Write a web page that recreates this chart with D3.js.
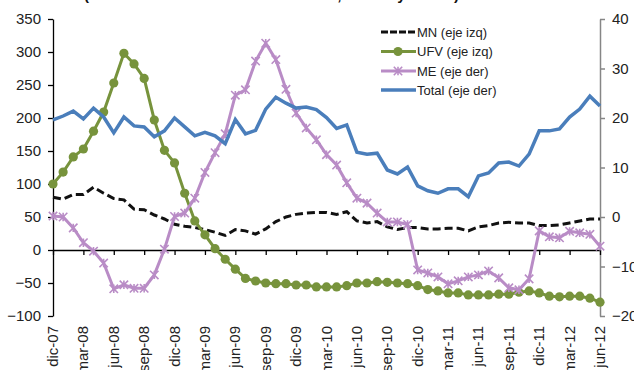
<!DOCTYPE html>
<html>
<head>
<meta charset="utf-8">
<script src="https://cdn.jsdelivr.net/npm/d3@7/dist/d3.min.js"></script>
<style>
  html, body { margin: 0; padding: 0; background: #fff; }
  svg { display: block; font-family: "Liberation Sans", Arial, sans-serif; }
</style>
</head>
<body>
<svg id="chart" width="634" height="370"></svg>
<script>
// Monthly periods, dic-07 .. jun-12
const months = [
  "dic-07","ene-08","feb-08","mar-08","abr-08","may-08","jun-08","jul-08","ago-08","sep-08","oct-08","nov-08",
  "dic-08","ene-09","feb-09","mar-09","abr-09","may-09","jun-09","jul-09","ago-09","sep-09","oct-09","nov-09",
  "dic-09","ene-10","feb-10","mar-10","abr-10","may-10","jun-10","jul-10","ago-10","sep-10","oct-10","nov-10",
  "dic-10","ene-11","feb-11","mar-11","abr-11","may-11","jun-11","jul-11","ago-11","sep-11","oct-11","nov-11",
  "dic-11","ene-12","feb-12","mar-12","abr-12","may-12","jun-12"
];
// Category labels shown on the time axis (every third month)
const tickLabels = ["dic-07","mar-08","jun-08","sep-08","dic-08","mar-09","jun-09","sep-09","dic-09",
  "mar-10","jun-10","sep-10","dic-10","mar-11","jun-11","sep-11","dic-11","mar-12","jun-12"];

// Left axis series
const mn = [80,77,84,84,95,86,78,76,62,61,53,47,39,36,34,31,27,22,31,29,24,32,43,50,54,56,57,57,54,58,
  44,41,43,35,31,34,34,32,32,33,33,29,35,37,41,42,41,41,37,37,38,41,44,47,47];
const ufv = [100,118,141,153,180,209,253,298,282,260,197,151,132,86,44,23,2,-14,-29,-43,-47,-50,-51,-51,
  -53,-53,-56,-56,-56,-54,-50,-50,-48,-49,-50,-51,-54,-60,-62,-65,-65,-68,-68,-68,-67,-67,-64,-62,-65,
  -70,-71,-70,-70,-73,-79];
// Right axis series
const me = [0.2,0,-2.2,-5.2,-6.9,-9.3,-14.5,-13.7,-14.4,-14.4,-11.7,-6.5,0.1,0.8,3.8,9,13,16.8,24.6,25.7,
  31.5,35.1,31.8,25.8,21,18,15.6,12.6,10.5,6.9,3.8,2.8,0.8,-1,-1,-1.5,-10.7,-11.3,-12.1,-13.5,-12.9,
  -12.1,-11.7,-10.9,-12.3,-14.3,-14.7,-12.5,-2.8,-4,-4.2,-2.9,-3.2,-3.5,-5.9];
const total = [19.6,20.4,21.4,19.8,22,20.2,17,20.2,18.4,18.2,16.2,17.4,20,18.2,16.4,17.1,16.4,14.8,19.7,
  16.8,17.5,21.8,24.2,23,22,22.2,21.7,20.1,17.9,18.6,13.1,12.7,12.9,9.5,8.7,10.1,6.3,5.3,4.8,5.7,5.7,
  4.1,8.3,8.9,10.9,11.1,10.3,12.7,17.4,17.4,17.8,20.2,21.8,24.4,22.4];

const leftTicks = [-100,-50,0,50,100,150,200,250,300,350];
const rightTicks = [-20,-10,0,10,20,30,40];
const seriesNames = ["MN (eje izq)","UFV (eje izq)","ME (eje der)","Total (eje der)"];

const colors = { mn: "#111111", ufv: "#77933c", me: "#b98cc6", total: "#4a7ebb" };

const svg = d3.select("#chart");

const x = d3.scalePoint().domain(months).range([53, 600]);
const yL = d3.scaleLinear().domain([-100, 350]).range([316, 19]);
const yR = d3.scaleLinear().domain([-20, 40]).range([316, 19]);

// Title (mostly above the top edge)
svg.append("text")
  .attr("x", 84).attr("y", 0)
  .attr("font-size", 15).attr("font-weight", "bold").attr("fill", "#111")
  .attr("textLength", 375).attr("lengthAdjust", "spacing")
  .text("(Variación en millones de Bs, en % y total)");

// Left axis
const axL = svg.append("g").attr("transform", "translate(53,0)")
  .call(d3.axisLeft(yL).tickValues(leftTicks).tickSize(5).tickSizeOuter(0).tickPadding(7));
axL.select(".domain").attr("stroke", "#000").attr("stroke-width", 1.3);
axL.selectAll(".tick line").attr("stroke", "#000").attr("stroke-width", 1.3);
axL.selectAll(".tick text").attr("font-size", 15).attr("fill", "#222")
  .attr("font-family", "Liberation Sans, Arial, sans-serif");

// Right axis
const axR = svg.append("g").attr("transform", "translate(600,0)")
  .call(d3.axisRight(yR).tickValues(rightTicks).tickSize(5).tickSizeOuter(0).tickPadding(7));
axR.select(".domain").attr("stroke", "#868686").attr("stroke-width", 1.5);
axR.selectAll(".tick line").attr("stroke", "#868686").attr("stroke-width", 1.5);
axR.selectAll(".tick text").attr("font-size", 15).attr("fill", "#222")
  .attr("font-family", "Liberation Sans, Arial, sans-serif");

// Category axis crossing at zero
const axX = svg.append("g").attr("transform", `translate(0,${yL(0)})`)
  .call(d3.axisBottom(x).tickValues(tickLabels).tickSize(5).tickSizeOuter(0).tickFormat(""));
axX.select(".domain").attr("stroke", "#000").attr("stroke-width", 1.6);
axX.selectAll(".tick line").attr("stroke", "#000").attr("stroke-width", 1.3);

// Rotated month labels along the bottom
svg.append("g").selectAll("text").data(tickLabels).join("text")
  .attr("transform", d => `translate(${x(d) + 5},326) rotate(-90)`)
  .attr("text-anchor", "end")
  .attr("font-size", 15).attr("fill", "#222")
  .text(d => d);

// Series lines
const lineL = d3.line().x((d, i) => x(months[i])).y(d => yL(d));
const lineR = d3.line().x((d, i) => x(months[i])).y(d => yR(d));

svg.append("path").datum(mn).attr("d", lineL)
  .attr("fill", "none").attr("stroke", colors.mn).attr("stroke-width", 3)
  .attr("stroke-dasharray", "8,4");

svg.append("path").datum(ufv).attr("d", lineL)
  .attr("fill", "none").attr("stroke", colors.ufv).attr("stroke-width", 3);
svg.append("g").selectAll("circle").data(ufv).join("circle")
  .attr("cx", (d, i) => x(months[i])).attr("cy", d => yL(d))
  .attr("r", 4.6).attr("fill", colors.ufv);

function starPath(cx, cy, s) {
  return `M${cx - s},${cy - s}L${cx + s},${cy + s}M${cx - s},${cy + s}L${cx + s},${cy - s}` +
         `M${cx},${cy - s}L${cx},${cy + s}`;
}

svg.append("path").datum(me).attr("d", lineR)
  .attr("fill", "none").attr("stroke", colors.me).attr("stroke-width", 3);
svg.append("g").selectAll("path").data(me).join("path")
  .attr("d", (d, i) => starPath(x(months[i]), yR(d), 4.2))
  .attr("stroke", colors.me).attr("stroke-width", 1.6).attr("fill", "none");

svg.append("path").datum(total).attr("d", lineR)
  .attr("fill", "none").attr("stroke", colors.total).attr("stroke-width", 3.5)
  .attr("stroke-linejoin", "miter");

// Legend
const legend = svg.append("g");
const rowY = [32, 51.5, 71, 90];
seriesNames.forEach((name, k) => {
  const g = legend.append("g").attr("transform", `translate(0,${rowY[k]})`);
  const ln = g.append("line").attr("x1", 381).attr("x2", 416).attr("y1", 0).attr("y2", 0)
    .attr("stroke-width", k === 3 ? 3.5 : 3);
  if (k === 0) ln.attr("stroke", colors.mn).attr("stroke-dasharray", "7,2");
  if (k === 1) {
    ln.attr("stroke", colors.ufv);
    g.append("circle").attr("cx", 398).attr("cy", 0).attr("r", 4.6).attr("fill", colors.ufv);
  }
  if (k === 2) {
    ln.attr("stroke", colors.me);
    g.append("path").attr("d", starPath(398, 0, 4.2)).attr("stroke", colors.me)
      .attr("stroke-width", 1.6).attr("fill", "none");
  }
  if (k === 3) ln.attr("stroke", colors.total);
  g.append("text").attr("x", 417).attr("y", 4.5).attr("font-size", 13).attr("fill", "#222").text(name);
});
</script>
</body>
</html>
